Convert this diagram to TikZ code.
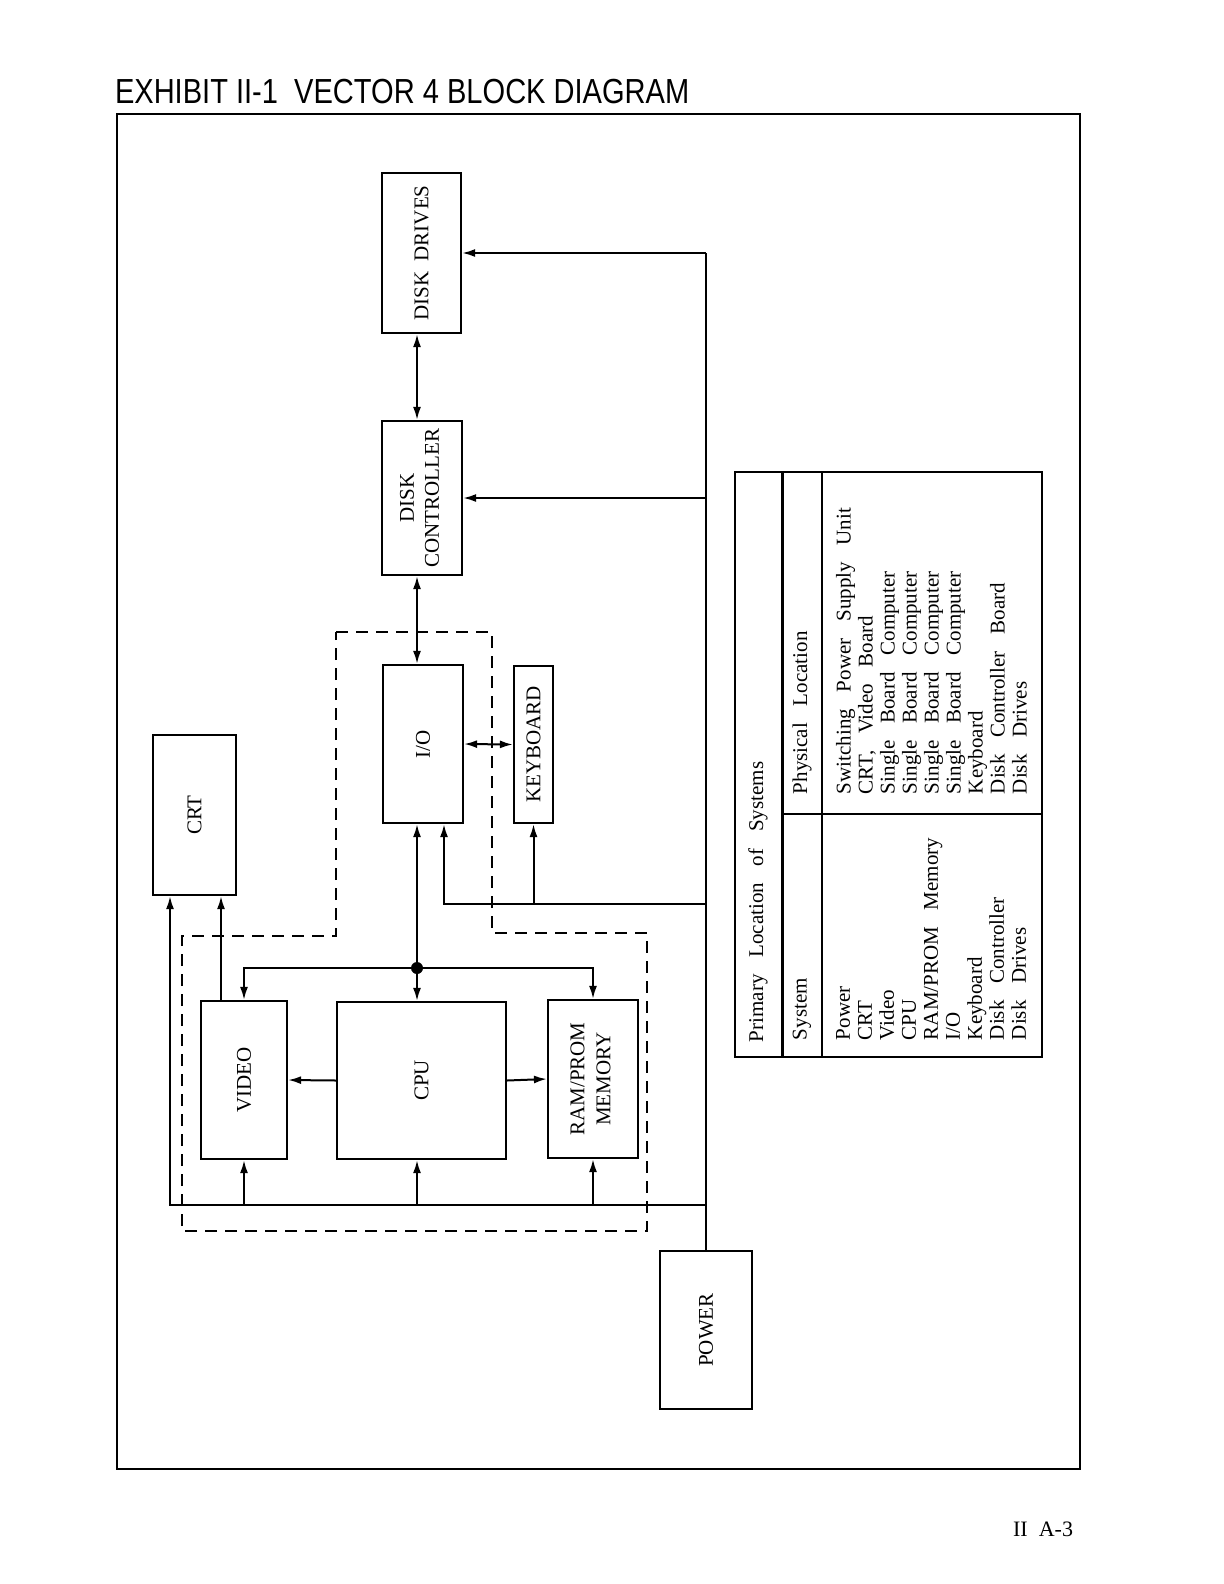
\documentclass[tikz,border=0pt]{standalone}
\usepackage{fontspec}
\setmainfont{Liberation Serif}
\newfontfamily\exhibitfont[FakeStretch=0.835]{Liberation Sans}
\usepackage{graphicx}
\usetikzlibrary{arrows.meta}

\newcommand\locfont{\fontsize{10.5}{11}\selectfont\spaceskip=0.8em plus 0.2em\relax}

\begin{document}
\begin{tikzpicture}[x=0.5pt,y=-0.5pt,line width=1pt,
    font=\fontsize{10.5}{11}\selectfont,
    blk/.style={draw,line width=1.1pt,inner sep=0pt},
    conn/.style={-{Latex[length=6.5pt,width=4pt]}},
    dconn/.style={{Latex[length=6.5pt,width=4pt]}-{Latex[length=6.5pt,width=4pt]}},
    tabtxt/.style={rotate=90,inner sep=0pt,font=\locfont},
    tabcol/.style={tabtxt,align=left,anchor=north west}]
  \useasboundingbox (0,0) rectangle (1224,1584);

  % heading and frame
  \node[anchor=base west,inner sep=0pt,font=\exhibitfont\fontsize{17.4}{20}\selectfont]
    (title) at (114,104) {EXHIBIT II-1\ \ VECTOR 4 BLOCK DIAGRAM};
  \draw[line width=1.3pt] (117,114) rectangle (1080,1469);

  % blocks
  \node[blk,minimum width=39.5pt,minimum height=80pt] (dd) at (421.5,253) {\rotatebox{90}{DISK~~DRIVES}};
  \node[blk,minimum width=40pt,minimum height=77pt] (dc) at (422,498)
    {\rotatebox{90}{\begin{tabular}{@{}c@{}}DISK\\[1.5pt]CONTROLLER\end{tabular}}};
  \node[blk,minimum width=40pt,minimum height=79pt] (io) at (423,744) {\rotatebox{90}{I/O}};
  \node[blk,minimum width=19.5pt,minimum height=78.5pt] (kb) at (533.5,744.5) {\rotatebox{90}{KEYBOARD}};
  \node[blk,minimum width=41.5pt,minimum height=80pt] (crt) at (194.5,815) {\rotatebox{90}{CRT}};
  \node[blk,minimum width=43pt,minimum height=79pt] (vid) at (244,1080) {\rotatebox{90}{VIDEO}};
  \node[blk,minimum width=84.5pt,minimum height=78.5pt] (cpu) at (421.5,1080.5) {\rotatebox{90}{CPU}};
  \node[blk,minimum width=45pt,minimum height=79pt] (ram) at (593,1079)
    {\rotatebox{90}{\begin{tabular}{@{}c@{}}RAM/PROM\\[2pt]MEMORY\end{tabular}}};
  \node[blk,minimum width=46pt,minimum height=79pt] (pwr) at (706,1330) {\rotatebox{90}{POWER}};

  % single board computer outline
  \draw[dash pattern=on 6pt off 4pt] (336,632) -- (492,632) -- (492,933) -- (647,933)
    -- (647,1231) -- (182,1231) -- (182,936) -- (336,936) -- cycle;

  % power distribution
  \coordinate (jn) at (417,968);
  \coordinate (iop) at (444,904);
  \coordinate (pb) at (170,1205);
  \draw (pwr.north) -- (pwr.north |- dd.east);
  \draw[conn] (pwr.north |- dd.east) -- (dd.east);
  \draw[conn] (pwr.north |- dc.east) -- (dc.east);
  \draw[conn] (pwr.north |- iop) -- (iop) -- (iop |- io.south);
  \draw[conn] (kb.south |- iop) -- (kb.south);
  \draw[conn] (pwr.north |- pb) -- (pb) -- (pb |- crt.south);
  \draw[conn] (vid.south |- pb) -- (vid.south);
  \draw[conn] (jn |- pb) -- (jn |- cpu.south);
  \draw[conn] (ram.south |- pb) -- (ram.south);

  % data paths
  \draw[dconn] (dd.south -| jn) -- (dc.north -| jn);
  \draw[dconn] (dc.south -| jn) -- (io.north -| jn);
  \draw[dconn] (io.east) -- (kb.west);
  \draw[conn] (jn) -- (io.south -| jn);
  \draw[conn] (jn) -- (cpu.north -| jn);
  \draw[conn] (jn) -| (vid.north);
  \draw[conn] (jn) -| (ram.north);
  \fill (jn) circle (3pt);
  \draw[conn] ([xshift=-11.5pt]vid.north) -- ([xshift=-11.5pt]vid.north |- crt.south);
  \draw[conn] (cpu.west) -- (vid.east);
  \draw[conn] (cpu.east) -- (ram.west);

  % location table
  \draw[line width=1.1pt] (735,472) rectangle (1042,1057);
  \draw[line width=1.5pt] (782,472) -- (782,1057);
  \draw (822,472) -- (822,1057);
  \draw (782,814) -- (1042,814);
  \node[tabtxt,anchor=west] (ttl) at (758,1043) {Primary Location of Systems};
  \node[tabtxt,anchor=west] (hsys) at (802,1041) {System};
  \node[tabtxt,anchor=west] (hloc) at (802,795) {Physical Location};
  \node[tabcol] (sys) at (835,1041) {Power\\CRT\\Video\\CPU\\RAM/PROM Memory\\I/O\\Keyboard\\Disk Controller\\Disk Drives};
  \node[tabcol] (loc) at (835,795) {Switching Power Supply Unit\\CRT, Video Board\\Single Board Computer\\Single Board Computer\\Single Board Computer\\Single Board Computer\\Keyboard\\Disk Controller Board\\Disk Drives};

  % page number
  \node[anchor=base east,inner sep=0pt,font=\fontsize{11}{13}\selectfont] (page) at (1074,1536) {II~~A-3};
\end{tikzpicture}
\end{document}
